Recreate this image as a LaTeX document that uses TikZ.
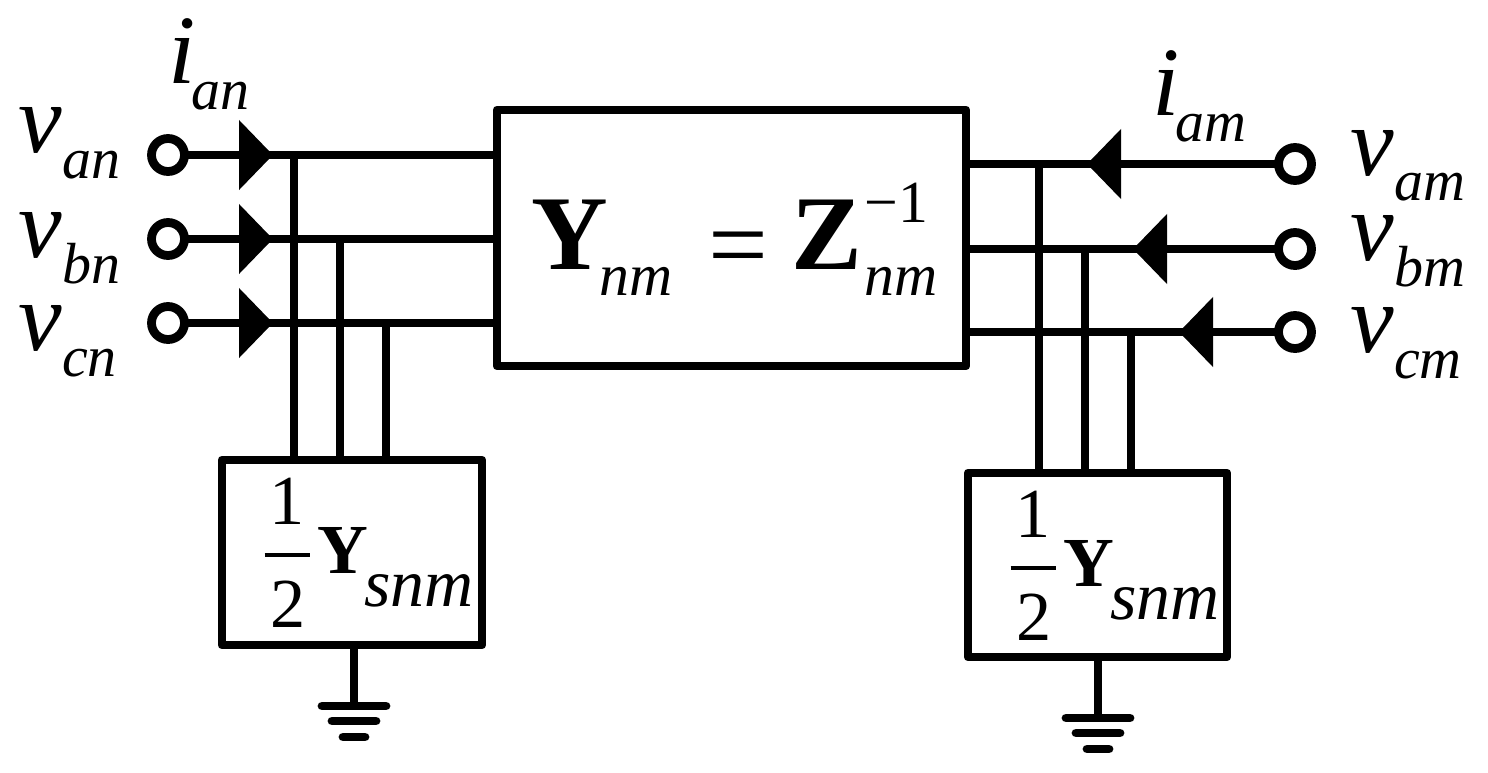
\documentclass[tikz,border=0pt]{standalone}
\usepackage{fontspec}
\setmainfont{Liberation Serif}
\usetikzlibrary{arrows.meta}
\newcommand\symlbl[2]{{\fontsize{27.9}{30}\selectfont\itshape #1}\raisebox{-2.6mm}{\fontsize{16.5}{18}\selectfont\itshape #2}}
\newcommand\halfsnm{\rlap{\kern.5mm\raisebox{4.9mm}{\fontsize{20}{22}\selectfont 1}}%
\rlap{\kern.6mm\raisebox{-5.4mm}{\fontsize{20}{22}\selectfont 2}}%
\rlap{\raisebox{1.6mm}{\rule{4.5mm}{.45mm}}}%
\kern5.3mm{\fontsize{20}{22}\selectfont\bfseries Y}\kern-.4mm\raisebox{-3.3mm}{\fontsize{19.3}{22}\selectfont\itshape snm}}
\tikzset{
  wire/.style={line width=.88mm,line join=round},
  tiparrow/.style={wire,shorten <=-.3mm,-{Triangle[length=3.4mm,width=6.8mm]}},
  terminal/.style={circle,draw,line width=.88mm,inner sep=0pt,minimum size=3.3mm},
  ybox/.style={rectangle,draw,line width=.88mm,line join=round,inner sep=0pt},
  lbl/.style={inner sep=0pt,anchor=base west},
  earth/.style={line width=.88mm,line cap=round}
}
\begin{document}
\begin{tikzpicture}[x=.1mm,y=-.1mm]
\useasboundingbox (0,0) rectangle (1488,773);
\node[ybox,minimum width=46.9mm,minimum height=25.6mm] (ymain) at (731.5,238){};
\node[ybox,minimum width=26mm,minimum height=18.5mm] (halfl) at (352,552.5){};
\node[ybox,minimum width=25.9mm,minimum height=18.4mm] (halfr) at (1097.5,565){};

\node[terminal] (van) at (168,155){};
\node[terminal] (vbn) at (168,239){};
\node[terminal] (vcn) at (168,323){};
\node[terminal] (vam) at (1295,164){};
\node[terminal] (vbm) at (1295,249){};
\node[terminal] (vcm) at (1295,332){};

\coordinate (tipan) at (273,155);
\coordinate (tipbn) at (273,239);
\coordinate (tipcn) at (273,323);
\coordinate (tipam) at (1087,164);
\coordinate (tipbm) at (1133,249);
\coordinate (tipcm) at (1179,332);

\draw[tiparrow] (van) to (tipan);
\draw[tiparrow] (vbn) to (tipbn);
\draw[tiparrow] (vcn) to (tipcn);
\draw[tiparrow] (vam) to (tipam);
\draw[tiparrow] (vbm) to (tipbm);
\draw[tiparrow] (vcm) to (tipcm);
\draw[wire] ([xshift=-1.5mm]tipan) to (tipan -| ymain.west);
\draw[wire] ([xshift=-1.5mm]tipbn) to (tipbn -| ymain.west);
\draw[wire] ([xshift=-1.5mm]tipcn) to (tipcn -| ymain.west);
\draw[wire] ([xshift=1.5mm]tipam) to (tipam -| ymain.east);
\draw[wire] ([xshift=1.5mm]tipbm) to (tipbm -| ymain.east);
\draw[wire] ([xshift=1.5mm]tipcm) to (tipcm -| ymain.east);

\coordinate (tapan) at (294,155);
\coordinate (tapbn) at (340,239);
\coordinate (tapcn) at (386,323);
\coordinate (tapam) at (1039,164);
\coordinate (tapbm) at (1085,249);
\coordinate (tapcm) at (1131,332);
\draw[wire] (tapan) to (tapan |- halfl.north);
\draw[wire] (tapbn) to (tapbn |- halfl.north);
\draw[wire] (tapcn) to (tapcn |- halfl.north);
\draw[wire] (tapam) to (tapam |- halfr.north);
\draw[wire] (tapbm) to (tapbm |- halfr.north);
\draw[wire] (tapcm) to (tapcm |- halfr.north);

\coordinate (gndl) at (354,706);
\coordinate (gndr) at (1098,718);
\draw[wire] (gndl |- halfl.south) to (gndl);
\draw[wire] (gndr |- halfr.south) to (gndr);
\draw[earth] ([xshift=-3.2mm]gndl) to ([xshift=3.2mm]gndl);
\draw[earth] ([xshift=-2.2mm,yshift=-1.5mm]gndl) to ([xshift=2.2mm,yshift=-1.5mm]gndl);
\draw[earth] ([xshift=-1.1mm,yshift=-3.1mm]gndl) to ([xshift=1.1mm,yshift=-3.1mm]gndl);
\draw[earth] ([xshift=-3.2mm]gndr) to ([xshift=3.2mm]gndr);
\draw[earth] ([xshift=-2.2mm,yshift=-1.5mm]gndr) to ([xshift=2.2mm,yshift=-1.5mm]gndr);
\draw[earth] ([xshift=-1.1mm,yshift=-3.1mm]gndr) to ([xshift=1.1mm,yshift=-3.1mm]gndr);

\node[lbl] (lian) at (168,83){\symlbl{i\kern-.4mm}{an}};
\node[lbl] (liam) at (1152,115){\symlbl{i\kern-.4mm}{am}};
\node[lbl] (lvan) at (18,152){\symlbl{v}{an}};
\node[lbl] (lvbn) at (18,257){\symlbl{v}{bn}};
\node[lbl] (lvcn) at (18,350){\symlbl{v}{cn}};
\node[lbl] (lvam) at (1350,175){\symlbl{v}{am}};
\node[lbl] (lvbm) at (1350,260){\symlbl{v}{bm}};
\node[lbl] (lvcm) at (1350,352){\symlbl{v}{cm}};

\node[lbl] (lynm) at (531,269){{\fontsize{30.2}{32}\selectfont\bfseries Y}\kern-.9mm\raisebox{-2.6mm}{\fontsize{17}{19}\selectfont\itshape nm}};
\node[lbl] (leq) at (708,280){\fontsize{30.2}{32}\selectfont =};
\node[lbl] (lznm) at (791,269){{\fontsize{30.2}{32}\selectfont\bfseries Z}\rlap{\kern.2mm\raisebox{4.7mm}{\fontsize{17}{19}\selectfont −1}}\kern.2mm\raisebox{-2.6mm}{\fontsize{17}{19}\selectfont\itshape nm}};

\node[lbl] (lhalfl) at (264,573){\halfsnm};
\node[lbl] (lhalfr) at (1010,586){\halfsnm};
\end{tikzpicture}
\end{document}
